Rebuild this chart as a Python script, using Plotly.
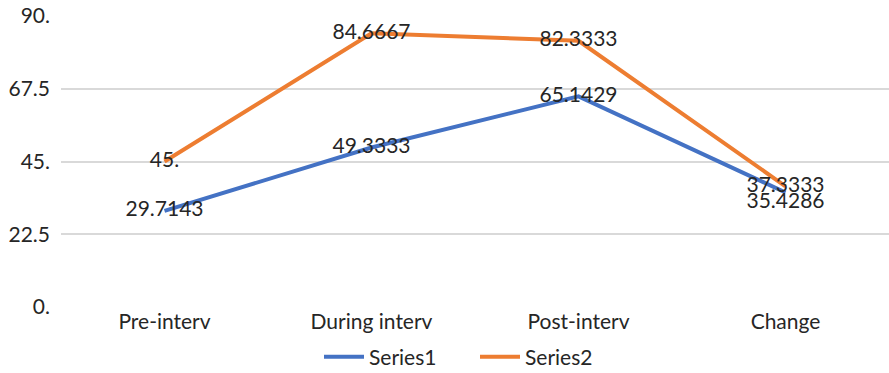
import plotly.graph_objects as go

categories = ["Pre-interv", "During interv", "Post-interv", "Change"]
series1 = [29.7143, 49.3333, 65.1429, 35.4286]
series2 = [45, 84.6667, 82.3333, 37.3333]
series1_labels = ["29.7143", "49.3333", "65.1429", "35.4286"]
series2_labels = ["45.", "84.6667", "82.3333", "37.3333"]
y_ticks = [0, 22.5, 45, 67.5, 90]
y_tick_labels = ["0.", "22.5", "45.", "67.5", "90."]

FONT = "Lato"
TEXT_COLOR = "#262626"

fig = go.Figure()
fig.add_trace(go.Scatter(
    x=categories, y=series1, name="Series1", mode="lines+text",
    line=dict(color="#4472C4", width=4),
    text=series1_labels,
    textposition=["middle center", "middle center", "middle center", "bottom center"],
    textfont=dict(family=FONT, size=21, color=TEXT_COLOR),
))
fig.add_trace(go.Scatter(
    x=categories, y=series2, name="Series2", mode="lines+text",
    line=dict(color="#ED7D31", width=4),
    text=series2_labels,
    textposition="middle center",
    textfont=dict(family=FONT, size=21, color=TEXT_COLOR),
))

fig.update_layout(
    width=889, height=373,
    margin=dict(l=61, r=0, t=16, b=66, autoexpand=False),
    paper_bgcolor="white", plot_bgcolor="white",
    font=dict(family=FONT, size=21, color=TEXT_COLOR),
    showlegend=True,
    legend=dict(orientation="h", x=0.5, xanchor="center", y=-0.172, yanchor="middle",
                font=dict(family=FONT, size=21, color=TEXT_COLOR),
                itemwidth=40, tracegroupgap=0, entrywidth=101),
    xaxis=dict(showgrid=False, showline=False, zeroline=False, ticks="",
               range=[-0.5, 3.5], tickfont=dict(size=21), automargin=False),
    yaxis=dict(range=[0, 90], tickvals=y_ticks, ticktext=y_tick_labels,
               showgrid=True, gridcolor="#D9D9D9", gridwidth=1.5,
               zeroline=False, showline=False, ticks="", ticklabelstandoff=10,
               tickfont=dict(size=21), automargin=False),
)

fig.write_html("out.html")
